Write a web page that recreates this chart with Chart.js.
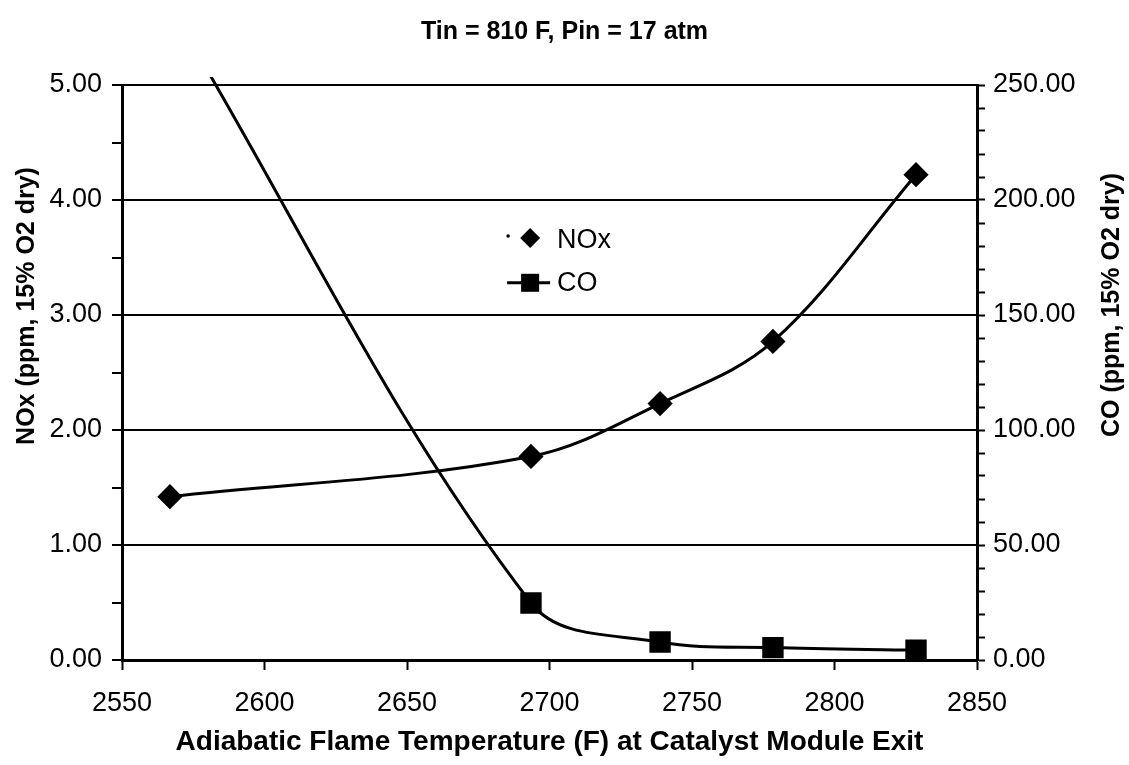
<!DOCTYPE html>
<html>
<head>
<meta charset="utf-8">
<script src="https://cdn.jsdelivr.net/npm/chart.js@4.4.1/dist/chart.umd.min.js"></script>
<style>
  html, body { margin: 0; padding: 0; background: #fff; }
  #wrap { width: 1129px; height: 765px; }
</style>
</head>
<body>
<div id="wrap"><canvas id="chart" width="1129" height="765"></canvas></div>
<script>
// data
const temps = [2566.8, 2693.5, 2738.8, 2778.4, 2828.6];
const noxValues = [1.42, 1.77, 2.23, 2.77, 4.22];
const coValues = [284, 24.8, 7.8, 5.4, 4.3];

const noxTicks = [0, 1, 2, 3, 4, 5];
const coTicks = [0, 50, 100, 150, 200, 250];

const FONT = '"Liberation Sans", Arial, sans-serif';

function toPoints(xs, ys) {
    return xs.map((x, i) => ({ x: x, y: ys[i] }));
}

// legend inside the plot + rotated y titles, drawn by hand
const extras = {
    id: 'extras',
    afterDraw(chart) {
        const c = chart.ctx;
        const x = chart.scales.x, y = chart.scales.y;
        c.save();
        c.fillStyle = '#000';
        c.strokeStyle = '#000';

        // legend
        const lx = x.getPixelForValue(2693.2);
        const ly1 = y.getPixelForValue(3.67);
        const ly2 = y.getPixelForValue(3.28);
        c.beginPath(); c.arc(lx - 22, ly1 - 2, 1.8, 0, Math.PI * 2); c.fill();
        c.beginPath();
        c.moveTo(lx, ly1 - 10); c.lineTo(lx + 10, ly1); c.lineTo(lx, ly1 + 10); c.lineTo(lx - 10, ly1);
        c.closePath(); c.fill();
        c.lineWidth = 3;
        c.beginPath(); c.moveTo(lx - 23, ly2); c.lineTo(lx + 20, ly2); c.stroke();
        c.fillRect(lx - 9, ly2 - 9, 18, 18);
        c.font = '27px ' + FONT;
        c.textBaseline = 'middle';
        c.textAlign = 'left';
        c.fillText(chart.data.datasets[0].label, lx + 27, ly1 + 3);
        c.fillText(chart.data.datasets[1].label, lx + 27, ly2 + 1);

        // axis titles
        c.font = 'bold 25px ' + FONT;
        c.textAlign = 'center';
        c.save();
        c.translate(27, 306);
        c.rotate(-Math.PI / 2);
        c.fillText('NOx (ppm, 15% O2 dry)', 0, 0);
        c.restore();
        c.save();
        c.translate(1112, 305);
        c.rotate(-Math.PI / 2);
        c.fillText('CO (ppm, 15% O2 dry)', 0, 0);
        c.restore();
        c.restore();
    }
};

var ctx = document.getElementById('chart').getContext('2d');
var myChart = new Chart(ctx, {
    type: 'line',
    data: {
        datasets: [{
            label: 'NOx',
            data: toPoints(temps, noxValues),
            yAxisID: 'y',
            borderColor: '#000',
            backgroundColor: '#000',
            borderWidth: 3,
            pointStyle: 'rectRot',
            pointRadius: 10.5,
            pointHoverRadius: 10.5,
            tension: 0.35,
            fill: false
        },
        {
            label: 'CO',
            data: toPoints(temps, coValues),
            yAxisID: 'y1',
            borderColor: '#000',
            backgroundColor: '#000',
            borderWidth: 3,
            pointStyle: 'rect',
            pointRadius: 13,
            pointHoverRadius: 13,
            tension: 0.35,
            fill: false,
            clip: { left: 5, top: 8, right: 5, bottom: 5 }
        }]
    },
    options: {
        responsive: false,
        animation: false,
        events: [],
        layout: { padding: 0 },
        scales: {
            x: {
                type: 'linear',
                min: 2550,
                max: 2850,
                afterFit: s => { s.height = 105; },
                ticks: {
                    stepSize: 50,
                    color: '#000',
                    font: { family: FONT, size: 27 },
                    padding: 17,
                    maxRotation: 0,
                    autoSkip: false,
                    callback: v => String(v)
                },
                grid: { drawOnChartArea: false, tickLength: 10, tickColor: '#000', tickWidth: 2 },
                border: { color: '#000', width: 3 },
                title: {
                    display: true,
                    text: 'Adiabatic Flame Temperature (F) at Catalyst Module Exit',
                    color: '#000',
                    font: { family: FONT, size: 28, weight: 'bold' },
                    padding: { top: 0, bottom: 6 }
                }
            },
            y: {
                position: 'left',
                min: 0,
                max: 5,
                afterFit: s => { s.width = 122; },
                afterBuildTicks: s => { s.ticks = []; for (let v = 0; v <= 5; v += 0.5) s.ticks.push({ value: v }); },
                ticks: {
                    color: '#000',
                    font: { family: FONT, size: 27 },
                    padding: 10,
                    autoSkip: false,
                    callback: v => noxTicks.includes(v) ? v.toFixed(2) : ''
                },
                grid: {
                    color: c => (c.tick && noxTicks.includes(c.tick.value)) ? '#000' : 'rgba(0,0,0,0)',
                    lineWidth: 2,
                    tickColor: '#000',
                    tickLength: 10,
                    tickWidth: 2
                },
                border: { color: '#000', width: 3 }
            },
            y1: {
                position: 'right',
                min: 0,
                max: 250,
                afterFit: s => { s.width = 152; },
                afterBuildTicks: s => { s.ticks = []; for (let v = 0; v <= 250; v += 10) s.ticks.push({ value: v }); },
                ticks: {
                    color: '#000',
                    font: { family: FONT, size: 27 },
                    padding: 8,
                    autoSkip: false,
                    callback: v => coTicks.includes(v) ? v.toFixed(2) : ''
                },
                grid: { drawOnChartArea: false, tickColor: '#000', tickLength: 8, tickWidth: 2 },
                border: { color: '#000', width: 3 }
            }
        },
        plugins: {
            title: {
                display: true,
                text: 'Tin = 810 F, Pin = 17 atm',
                color: '#000',
                font: { family: FONT, size: 25, weight: 'bold' },
                padding: { top: 17, bottom: 38 }
            },
            legend: { display: false },
            tooltip: { enabled: false }
        }
    },
    plugins: [extras]
});
</script>
</body>
</html>
